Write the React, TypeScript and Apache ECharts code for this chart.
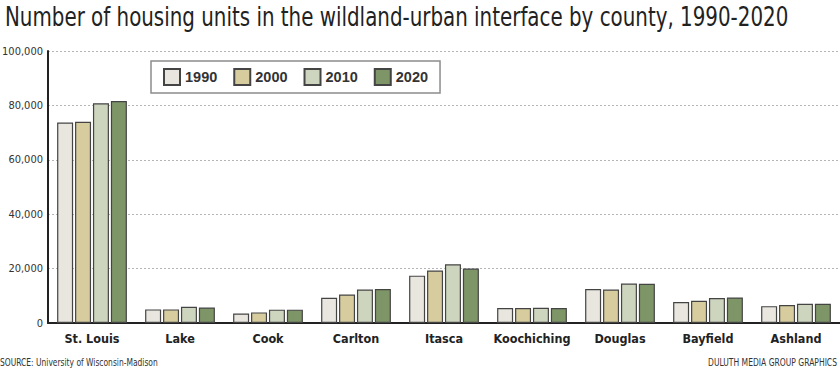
import React, { useEffect, useRef } from "react";
import * as echarts from "echarts";

const categories = ["St. Louis", "Lake", "Cook", "Carlton", "Itasca", "Koochiching", "Douglas", "Bayfield", "Ashland"];
const years = ["1990", "2000", "2010", "2020"];
const v1990 = [73700, 5000, 3500, 9300, 17400, 5500, 12500, 7700, 6200];
const v2000 = [74000, 5000, 3900, 10500, 19300, 5500, 12300, 8200, 6600];
const v2010 = [80800, 6000, 4900, 12300, 21600, 5600, 14500, 9200, 7100];
const v2020 = [81600, 5700, 4900, 12500, 20000, 5500, 14400, 9400, 7100];
const seriesValues = [v1990, v2000, v2010, v2020];
const colors = ["#e8e6de", "#d7cc9e", "#cdd5be", "#7e9567"];

const TITLE = "Number of housing units in the wildland-urban interface by county, 1990-2020";
const SOURCE = "SOURCE: University of Wisconsin-Madison";
const CREDIT = "DULUTH MEDIA GROUP GRAPHICS";
const NARROW = '"DejaVu Sans Condensed", "Liberation Sans Narrow", "Roboto", sans-serif';

function fit(text: string, font: string, target: number): number {
  const c = document.createElement("canvas");
  const ctx = c.getContext("2d");
  if (!ctx) return 1;
  ctx.font = font;
  const w = ctx.measureText(text).width;
  return w > 0 ? target / w : 1;
}

export default function App() {
  const ref = useRef<HTMLDivElement>(null);
  useEffect(() => {
    if (!ref.current) return;
    const chart = echarts.init(ref.current, null, { renderer: "svg" });
    const titleScale = fit(TITLE, `27px ${NARROW}`, 784);
    const srcScale = fit(SOURCE, `11px ${NARROW}`, 158);
    const credScale = fit(CREDIT, `11px ${NARROW}`, 129);
    chart.setOption({
      animation: false,
      backgroundColor: "#ffffff",
      grid: { left: 48, right: 0, top: 51, bottom: 47, containLabel: false, outerBoundsMode: "none" },
      legend: {
        left: 151,
        top: 61,
        orient: "horizontal",
        icon: "rect",
        itemWidth: 16,
        itemHeight: 16,
        itemGap: 16,
        padding: [7, 12, 7, 12],
        borderColor: "#8c8c8c",
        borderWidth: 1.5,
        backgroundColor: "#ffffff",
        data: years,
        textStyle: { fontFamily: '"Liberation Sans", Arial, sans-serif', fontWeight: "bold", fontSize: 14.5, color: "#333" },
      },
      xAxis: {
        type: "category",
        data: categories,
        axisLine: { show: true, lineStyle: { color: "#222", width: 2 } },
        axisTick: { show: false },
        axisLabel: { interval: 0, margin: 9, fontFamily: NARROW, fontWeight: "bold", fontSize: 12.5, color: "#222" },
        splitLine: { show: false },
      },
      yAxis: {
        type: "value",
        min: 0,
        max: 100000,
        interval: 20000,
        axisLine: { show: true, lineStyle: { color: "#222", width: 2 } },
        axisTick: { show: false },
        axisLabel: {
          margin: 5,
          fontFamily: NARROW,
          fontSize: 11,
          color: "#333",
          formatter: (v: number) => v.toLocaleString("en-US"),
        },
        splitLine: { show: true, lineStyle: { color: "#b5b5b5", type: [2, 2], width: 1 } },
      },
      series: years.map((y, i) => ({
        name: y,
        type: "bar",
        data: seriesValues[i],
        barWidth: 16,
        barGap: "12%",
        itemStyle: { color: colors[i], borderColor: "#444", borderWidth: 1.2 },
      })),
      graphic: [
        {
          type: "text",
          x: 5,
          y: 17,
          scaleX: titleScale,
          style: { text: TITLE, fontFamily: NARROW, fontSize: 27, fill: "#222", align: "left", verticalAlign: "middle" },
        },
        {
          type: "text",
          x: 0,
          y: 362,
          scaleX: srcScale,
          style: { text: SOURCE, fontFamily: NARROW, fontSize: 11, fill: "#333", align: "left", verticalAlign: "middle" },
        },
        {
          type: "text",
          x: 837,
          y: 362,
          scaleX: credScale,
          style: { text: CREDIT, fontFamily: NARROW, fontSize: 11, fill: "#333", align: "right", verticalAlign: "middle" },
        },
      ],
    });
    return () => chart.dispose();
  }, []);
  return <div ref={ref} style={{ position: "fixed", left: 0, top: 0, width: 840, height: 370 }} />;
}
